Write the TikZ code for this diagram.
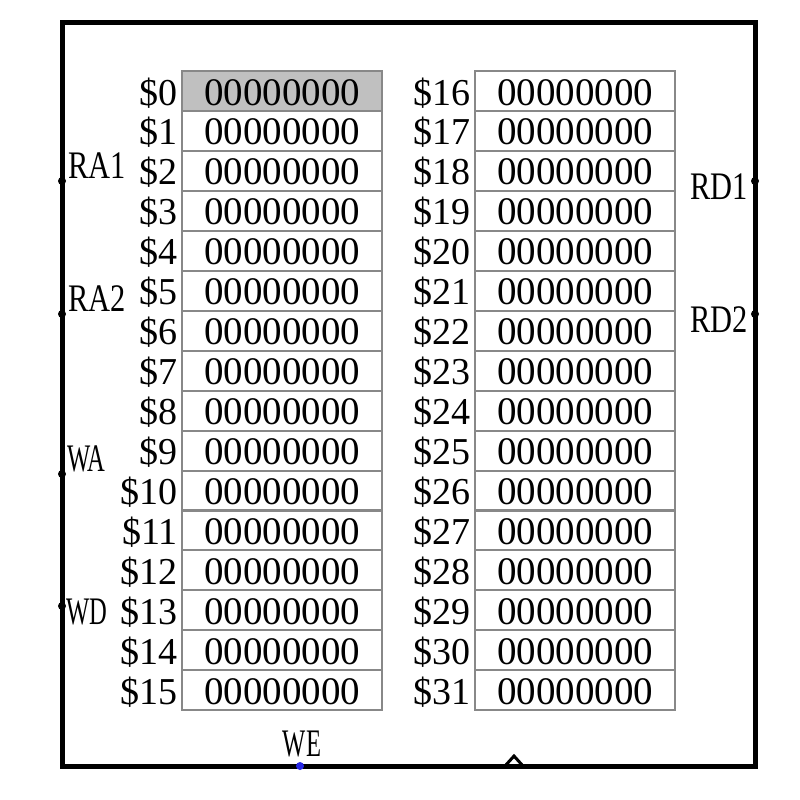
\documentclass[tikz,border=0pt]{standalone}
\usepackage{fontspec}
\newfontfamily\regfont{Liberation Serif}
\newfontfamily\pinfont[FakeStretch=0.78]{Liberation Serif}
\newfontfamily\pinwfont[FakeStretch=0.63]{Liberation Serif}
\begin{document}
\begin{tikzpicture}[x=1pt,y=-1pt,
  cell/.style={draw=regborder, line width=2pt, minimum width=200pt, minimum height=40pt, inner sep=0pt, text height=28pt, text depth=0pt, font=\regfont\fontsize{39}{39}\selectfont},
  reglabel/.style={anchor=base east, inner sep=0pt, font=\regfont\fontsize{38}{38}\selectfont},
  pinlabel/.style={inner sep=0pt, font=\pinfont\fontsize{39}{39}\selectfont},
  pinwlabel/.style={inner sep=0pt, font=\pinwfont\fontsize{39}{39}\selectfont},
  pindot/.style={circle, fill=black, inner sep=0pt, minimum size=8pt}]
\definecolor{regborder}{RGB}{136,136,136}
\definecolor{selfill}{RGB}{192,192,192}
\definecolor{weblue}{RGB}{40,40,230}
\useasboundingbox (0,0) rectangle (800,800);
\fill[white] (0,0) rectangle (800,800);
% register cells
\foreach \i in {0,...,15}{
  \pgfmathtruncatemacro{\j}{\i+16}
  \node[cell] (L\i) at (282,{91+39.95*\i}) {00000000};
  \node[reglabel] (LL\i) at (178,{105+39.95*\i}) {\$\i};
  \node[cell] (R\i) at (575,{91+39.95*\i}) {00000000};
  \node[reglabel] (RL\i) at (471,{105+39.95*\i}) {\$\j};
}
\node[cell, fill=selfill] (L0) at (282,91) {00000000};
% outer box
\draw[line width=5pt] (62,23) rectangle (755,766);
% pins
\coordinate (ra1) at (62,181);
\coordinate (ra2) at (62,314);
\coordinate (wa) at (62,474);
\coordinate (wd) at (62,606);
\coordinate (rd1) at (755,181);
\coordinate (rd2) at (755,314);
\coordinate (we) at (300,766);
\foreach \p in {ra1,ra2,wa,wd,rd1,rd2}{\node[pindot] at (\p) {};}
\node[circle, fill=weblue, inner sep=0pt, minimum size=8pt] at (we) {};
\node[pinlabel, anchor=base west] (tra1) at (68,178) {RA1};
\node[pinlabel, anchor=base west] (tra2) at (68,311) {RA2};
\node[pinwlabel, anchor=base west] (twa) at (67,471) {WA};
\node[pinwlabel, anchor=base west] (twd) at (66,624) {WD};
\node[pinlabel, anchor=base east] (trd1) at (748,199) {RD1};
\node[pinlabel, anchor=base east] (trd2) at (748,332) {RD2};
\node[pinwlabel, anchor=base] (twe) at (302,756) {WE};
% clock triangle
\draw[line width=3pt] (505,766) -- (514,756) -- (523,766);
\end{tikzpicture}
\end{document}
